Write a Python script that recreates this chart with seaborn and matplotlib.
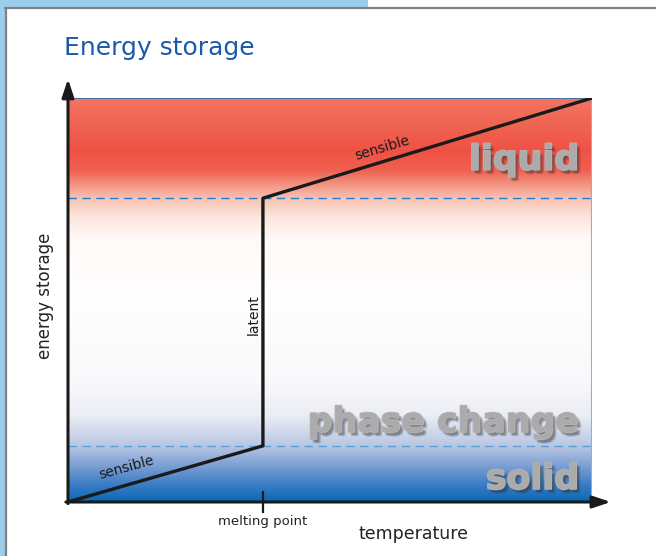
import numpy as np
import pandas as pd
import matplotlib
matplotlib.use("Agg")
import matplotlib.pyplot as plt
import matplotlib.patheffects as pe
from matplotlib.patches import Rectangle
import seaborn as sns

# ---- data ----
temperature = [0.0, 0.372, 0.372, 1.0]
energy = [0.0, 0.139, 0.752, 1.0]
segment_labels = ["sensible", "latent", "sensible"]
melting_point = 0.372
phase_bounds = [0.139, 0.752]
tick_labels = ["melting point"]
phase_names = ["liquid", "phase change", "solid"]

sns.set_theme(style="white")
plt.rcParams['font.family'] = ['DejaVu Sans']

W, H = 656, 556
fig = plt.figure(figsize=(W / 100, H / 100), dpi=100)
fig.patch.set_facecolor("white")

# frame decoration
fig.patches.append(Rectangle((0, 1 - 7 / H), 368 / W, 7 / H, transform=fig.transFigure,
                             facecolor="#9dcdec", edgecolor="none", zorder=0))
fig.patches.append(Rectangle((0, 0), 5 / W, 1, transform=fig.transFigure,
                             facecolor="#9dcdec", edgecolor="none", zorder=0))
fig.add_artist(plt.Line2D([5 / W, 1], [1 - 7.5 / H, 1 - 7.5 / H], transform=fig.transFigure,
                          color="#808080", lw=1.6))
fig.add_artist(plt.Line2D([5.5 / W, 5.5 / W], [0, 1 - 7.5 / H], transform=fig.transFigure,
                          color="#808080", lw=1.6))

ax = fig.add_axes([68 / W, (H - 502) / H, 524 / W, 404 / H])
ax.set_xlim(0, 1)
ax.set_ylim(0, 1)

# background gradient
stops = [
    (0.000, "#0a68b8"), (0.042, "#3b7cc4"), (0.092, "#7fa2d5"), (0.139, "#b9c7e2"),
    (0.215, "#eceef5"), (0.302, "#f9f9fb"), (0.500, "#fefefe"), (0.650, "#fffaf8"),
    (0.705, "#fce6de"), (0.752, "#f8c2b2"), (0.785, "#f39684"), (0.822, "#f06050"),
    (0.871, "#ef5244"), (0.933, "#f06452"), (1.000, "#f37462"),
]
pos = np.array([s[0] for s in stops])
cols = np.array([matplotlib.colors.to_rgb(s[1]) for s in stops])
yy = np.linspace(0, 1, 400)
grad = np.stack([np.interp(yy, pos, cols[:, i]) for i in range(3)], axis=-1)[:, None, :]
ax.imshow(grad, extent=[0, 1, 0, 1], origin="lower", aspect="auto", zorder=0)

# top / right thin edges
ax.axhline(1.0, color="#2f6fb0", lw=1.2, zorder=1)
ax.axvline(1.0, color="#80b4e4", lw=1.5, zorder=1)

# dashed phase boundaries
ax.axhline(phase_bounds[1], color="#1f7fd0", lw=1.0, ls=(0, (6, 4)), zorder=2)
ax.axhline(phase_bounds[0], color="#5a9fd8", lw=1.0, ls=(0, (6, 4)), zorder=2)

# big phase names with soft shadow
big_fx = []
for dx, dy in [(1, -1), (2, -2), (3, -3), (2, -3), (3, -2), (1.5, -2.5)]:
    big_fx.append(pe.SimplePatchShadow(offset=(dx, dy), shadow_rgbFace="#303030", alpha=0.12))
big_fx.append(pe.Stroke(linewidth=1.2, foreground="#b4b4b4"))
big_fx.append(pe.Normal())
name_y = [0.847, 0.198, 0.057]
for name, yv in zip(phase_names, name_y):
    ax.text(0.975, yv, name, ha="right", va="center", fontsize=25, fontweight="bold",
            color="#ababab", path_effects=big_fx, zorder=3)

# energy curve
df = pd.DataFrame({"temperature": temperature, "energy": energy})
sns.lineplot(data=df, x="temperature", y="energy", sort=False, estimator=None,
             color="#1a1a1a", lw=2.4, ax=ax, zorder=5)

# segment labels
ax.text(0.112, 0.084, segment_labels[0], rotation=15.5, ha="center", va="center",
        fontsize=10, color="#1a1a1a", zorder=6)
ax.text(0.355, 0.465, segment_labels[1], rotation=90, ha="center", va="center",
        fontsize=10, color="#1a1a1a", zorder=6)
ax.text(0.599, 0.877, segment_labels[2], rotation=16.5, ha="center", va="center",
        fontsize=10, color="#1a1a1a", zorder=6)

# axes arrows
for s in ax.spines.values():
    s.set_visible(False)
arrow = dict(arrowstyle="-|>,head_length=0.9,head_width=0.3", color="#1a1a1a", lw=2.2,
             shrinkA=0, shrinkB=0)
ax.annotate("", xy=(1.036, 0), xytext=(-0.004, 0), xycoords="axes fraction",
            arrowprops=arrow, annotation_clip=False, zorder=7)
ax.annotate("", xy=(0, 1.047), xytext=(0, -0.004), xycoords="axes fraction",
            arrowprops=arrow, annotation_clip=False, zorder=7)

ax.set_xticks([melting_point])
ax.set_xticklabels(tick_labels, fontsize=9.5, color="#222222")
ax.set_yticks([])
ax.tick_params(axis="x", direction="inout", length=16, width=1.6, color="#1a1a1a", pad=1,
               bottom=True)

ax.set_xlabel("temperature", fontsize=12.5, color="#222222")
ax.xaxis.set_label_coords(0.66, -0.058)
ax.set_ylabel("energy storage", fontsize=12, color="#222222")
ax.yaxis.set_label_coords(-0.026, 0.51)

fig.text(64 / W, 1 - 48 / H, "Energy storage", fontsize=18, color="#1a5aa8",
         ha="left", va="center")

fig.savefig("out.png", dpi=100)
